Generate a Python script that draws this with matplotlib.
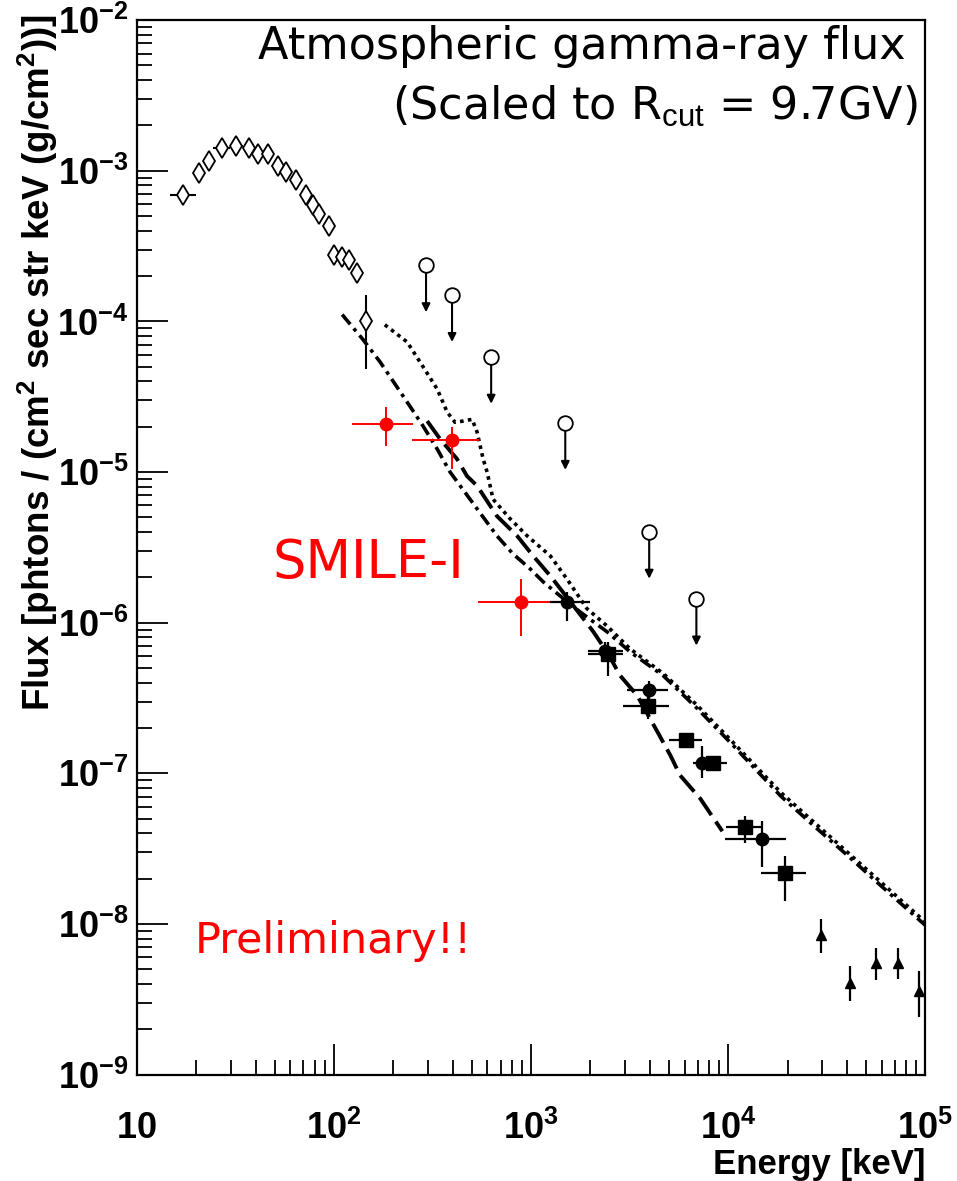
import numpy as np
import matplotlib
matplotlib.use("Agg")
import matplotlib.pyplot as plt
import matplotlib.ticker as ticker

plt.rcParams["font.family"] = ["Liberation Sans", "DejaVu Sans"]
plt.rcParams["mathtext.fontset"] = "custom"
plt.rcParams["mathtext.rm"] = "Liberation Sans"
plt.rcParams["mathtext.bf"] = "Liberation Sans:bold"
plt.rcParams["mathtext.it"] = "Liberation Sans:italic"

# ---------------------------------------------------------------------------
# Data
# ---------------------------------------------------------------------------
# open diamonds (low-energy balloon data)
dia_E = [17.1, 20.6, 23.2, 27.0, 31.8, 37.1, 41.1, 46.2, 52.0, 57.0, 64.1,
         72.1, 78.2, 84.0, 94.4, 100, 110, 119, 131, 145]
dia_F = [6.9e-4, 9.7e-4, 1.16e-3, 1.42e-3, 1.47e-3, 1.42e-3, 1.30e-3, 1.30e-3,
         1.08e-3, 9.8e-4, 8.7e-4, 6.9e-4, 5.9e-4, 5.2e-4, 4.3e-4, 2.78e-4,
         2.69e-4, 2.57e-4, 2.11e-4, 1.0e-4]
dia_Elo = [14.7, 20.6, 23.2, 24.3, 29.6, 34.5, 41.1, 44.0, 52.0, 57.0, 64.1,
           72.1, 78.2, 84.0, 94.4, 100, 110, 119, 131, 145]
dia_Ehi = [19.9, 20.6, 23.2, 29.6, 34.5, 39.5, 41.1, 46.2, 52.0, 57.0, 64.1,
           72.1, 78.2, 84.0, 94.4, 100, 110, 119, 131, 145]
dia_Flo = [6.9e-4, 9.7e-4, 1.16e-3, 1.42e-3, 1.47e-3, 1.42e-3, 1.30e-3, 1.30e-3,
           1.08e-3, 9.8e-4, 8.7e-4, 6.9e-4, 5.9e-4, 5.2e-4, 4.3e-4, 2.78e-4,
           2.69e-4, 2.57e-4, 1.84e-4, 4.8e-5]
dia_Fhi = [6.9e-4, 9.7e-4, 1.16e-3, 1.42e-3, 1.47e-3, 1.42e-3, 1.30e-3, 1.30e-3,
           1.08e-3, 9.8e-4, 8.7e-4, 6.9e-4, 5.9e-4, 5.2e-4, 4.3e-4, 2.78e-4,
           2.69e-4, 2.57e-4, 2.42e-4, 1.49e-4]

# upper limits (open circles with arrows)
ul_E = [293, 397, 627, 1490, 3970, 6890]
ul_F = [2.35e-4, 1.49e-4, 5.8e-5, 2.11e-5, 4.0e-6, 1.44e-6]

# SMILE-I (red)
sm_E = [184, 397, 889]
sm_F = [2.08e-5, 1.63e-5, 1.38e-6]
sm_Elo = [123, 249, 538]
sm_Ehi = [252, 544, 1248]
sm_Flo = [1.49e-5, 1.05e-5, 8.2e-7]
sm_Fhi = [2.69e-5, 1.99e-5, 1.95e-6]

# filled circles
ci_E = [1520, 2370, 3970, 7380, 14900]
ci_F = [1.38e-6, 6.5e-7, 3.55e-7, 1.18e-7, 3.66e-8]
ci_Elo = [1250, 1950, 3070, 6600, 9660]
ci_Ehi = [1990, 2930, 4950, 8200, 19700]
ci_Flo = [1.02e-6, 5.6e-7, 3.04e-7, 9.3e-8, 2.38e-8]
ci_Fhi = [1.60e-6, 7.4e-7, 4.13e-7, 1.51e-7, 4.81e-8]

# filled squares
sq_E = [2460, 3930, 6120, 8400, 12190, 19460]
sq_F = [6.2e-7, 2.78e-7, 1.66e-7, 1.18e-7, 4.39e-8, 2.18e-8]
sq_Elo = [1950, 2930, 5020, 7820, 9770, 14700]
sq_Ehi = [2930, 5020, 7390, 9890, 14900, 24900]
sq_Flo = [4.45e-7, 2.31e-7, 1.55e-7, 1.05e-7, 3.44e-8, 1.42e-8]
sq_Fhi = [7.5e-7, 3.49e-7, 1.78e-7, 1.30e-7, 5.19e-8, 2.82e-8]

# filled triangles
tr_E = [29650, 41600, 56400, 72900, 93300]
tr_F = [8.45e-9, 4.06e-9, 5.52e-9, 5.52e-9, 3.6e-9]
tr_Flo = [6.43e-9, 3.09e-9, 4.26e-9, 4.35e-9, 2.42e-9]
tr_Fhi = [1.08e-8, 5.27e-9, 6.93e-9, 6.93e-9, 4.89e-9]

# model curves
cA_E = [110, 140, 171, 209, 243, 283, 334, 388, 490, 671, 810, 988, 1150, 1400,
        1770, 2430, 3180, 4680, 6970, 10600, 18400, 27000, 40200, 59100, 100000]
cA_F = [1.11e-4, 7.6e-5, 5.4e-5, 3.66e-5, 2.73e-5, 2.02e-5, 1.42e-5, 1.0e-5,
        6.6e-6, 3.77e-6, 2.86e-6, 2.28e-6, 1.87e-6, 1.51e-6, 1.18e-6, 8.7e-7,
        6.4e-7, 4.45e-7, 2.69e-7, 1.53e-7, 7.1e-8, 4.52e-8, 2.86e-8, 1.81e-8, 9.8e-9]

cB_E = [181, 235, 283, 334, 375, 411, 452, 502, 532, 571, 598, 641, 782, 955,
        1250, 1520, 1920, 2430, 3180, 4680, 6970, 10600, 18400, 40200, 100000]
cB_F = [9.5e-5, 7.3e-5, 5.0e-5, 3.55e-5, 2.5e-5, 2.14e-5, 2.18e-5, 2.24e-5,
        1.84e-5, 1.22e-5, 1.0e-5, 6.6e-6, 4.9e-6, 3.77e-6, 2.78e-6, 1.95e-6,
        1.24e-6, 9.5e-7, 6.7e-7, 4.6e-7, 2.82e-7, 1.60e-7, 7.5e-8, 3.0e-8, 1.03e-8]

cC_E = [297, 345, 421, 473, 532, 671, 849, 1023, 1250, 1580, 2070, 2460, 2830,
        3450, 4360, 5080, 5700, 7210, 9330]
cC_F = [2.18e-5, 1.66e-5, 1.22e-5, 9.4e-6, 8.1e-6, 5.1e-6, 3.77e-6, 2.78e-6,
        2.05e-6, 1.38e-6, 8.7e-7, 6.2e-7, 4.45e-7, 3.29e-7, 1.90e-7, 1.32e-7,
        9.7e-8, 6.8e-8, 4.13e-8]

xtick_vals = [10, 1e2, 1e3, 1e4, 1e5]
xtick_labels = [r"$\mathbf{10}$", r"$\mathbf{10^{2}}$", r"$\mathbf{10^{3}}$",
                r"$\mathbf{10^{4}}$", r"$\mathbf{10^{5}}$"]
ytick_vals = [1e-9, 1e-8, 1e-7, 1e-6, 1e-5, 1e-4, 1e-3, 1e-2]
ytick_labels = [r"$\mathbf{10^{-9}}$", r"$\mathbf{10^{-8}}$", r"$\mathbf{10^{-7}}$",
                r"$\mathbf{10^{-6}}$", r"$\mathbf{10^{-5}}$", r"$\mathbf{10^{-4}}$",
                r"$\mathbf{10^{-3}}$", r"$\mathbf{10^{-2}}$"]


def err(c, lo, hi):
    c, lo, hi = np.array(c), np.array(lo), np.array(hi)
    return np.vstack([c - lo, hi - c])


# ---------------------------------------------------------------------------
# Figure
# ---------------------------------------------------------------------------
fig = plt.figure(figsize=(9.57, 11.81), dpi=100)
ax = fig.add_axes([0.143, 0.090, 0.824, 0.893])
ax.set_xscale("log")
ax.set_yscale("log")
ax.set_xlim(10, 1e5)
ax.set_ylim(1e-9, 1e-2)

# model curves
ax.plot(cA_E, cA_F, color="k", lw=2.6, ls=(0, (3.5, 1.5, 1.0, 1.5)), zorder=2)
ax.plot(cB_E, cB_F, color="k", lw=2.6, ls=(0, (1.0, 1.2)), zorder=2)
ax.plot(cC_E, cC_F, color="k", lw=2.8, ls=(0, (5.5, 2.0)), zorder=2)

# diamonds
ax.errorbar(dia_E, dia_F, xerr=err(dia_E, dia_Elo, dia_Ehi),
            yerr=err(dia_F, dia_Flo, dia_Fhi), fmt="d", ms=10, mfc="white",
            mec="k", mew=1.3, ecolor="k", elinewidth=1.5, capsize=0, zorder=4)

# upper limits
ax.plot(ul_E, ul_F, "o", ms=10.5, mfc="white", mec="k", mew=1.3, zorder=4)
for e, f in zip(ul_E, ul_F):
    ax.annotate("", xy=(e, f * 10 ** -0.31), xytext=(e, f),
                arrowprops=dict(arrowstyle="-|>", color="k", lw=1.5,
                                shrinkA=5, shrinkB=0, mutation_scale=12))

# black data sets
ax.errorbar(ci_E, ci_F, xerr=err(ci_E, ci_Elo, ci_Ehi),
            yerr=err(ci_F, ci_Flo, ci_Fhi), fmt="o", ms=9, color="k",
            elinewidth=1.6, capsize=0, zorder=5)
ax.errorbar(sq_E, sq_F, xerr=err(sq_E, sq_Elo, sq_Ehi),
            yerr=err(sq_F, sq_Flo, sq_Fhi), fmt="s", ms=9.5, color="k",
            elinewidth=1.6, capsize=0, zorder=5)
ax.errorbar(tr_E, tr_F, yerr=err(tr_F, tr_Flo, tr_Fhi), fmt="^", ms=7.5,
            color="k", elinewidth=1.6, capsize=0, zorder=5)

# SMILE-I
ax.errorbar(sm_E, sm_F, xerr=err(sm_E, sm_Elo, sm_Ehi),
            yerr=err(sm_F, sm_Flo, sm_Fhi), fmt="o", ms=9, color="#ff0000",
            elinewidth=1.4, capsize=0, zorder=6)

# axes styling
for s in ax.spines.values():
    s.set_linewidth(1.6)
ax.xaxis.set_major_locator(ticker.FixedLocator(xtick_vals))
ax.xaxis.set_major_formatter(ticker.FixedFormatter(xtick_labels))
ax.yaxis.set_major_locator(ticker.FixedLocator(ytick_vals))
ax.yaxis.set_major_formatter(ticker.FixedFormatter(ytick_labels))
ax.xaxis.set_minor_locator(ticker.LogLocator(base=10, subs=np.arange(2, 10), numticks=20))
ax.yaxis.set_minor_locator(ticker.LogLocator(base=10, subs=np.arange(2, 10), numticks=20))
ax.xaxis.set_minor_formatter(ticker.NullFormatter())
ax.yaxis.set_minor_formatter(ticker.NullFormatter())
ax.tick_params(which="major", direction="in", length=22, width=1.3,
               labelsize=26, top=False, right=False)
ax.tick_params(which="minor", direction="in", length=11, width=1.3,
               top=False, right=False)
ax.tick_params(axis="x", which="major", pad=26)
ax.tick_params(axis="y", which="major", pad=6)

fig.text(0.040, 0.988,
         r"Flux [phtons / (cm$^{\mathbf{2}}$ sec str keV (g/cm$^{\mathbf{2}}$))]",
         rotation=90, ha="center", va="top", fontsize=26.5, fontweight="bold")
fig.text(0.967, 0.0, "Energy [keV]", ha="right", va="bottom",
         fontsize=25, fontweight="bold")

# annotations
ax.text(0.975, 0.975, "Atmospheric gamma-ray flux", transform=ax.transAxes,
        ha="right", va="center", fontsize=32, family="DejaVu Sans")
ax.text(0.99, 0.918, r"(Scaled to R$_{\rm cut}$ = 9.7GV)", transform=ax.transAxes,
        ha="right", va="center", fontsize=32, family="DejaVu Sans")
ax.text(0.172, 0.485, "SMILE-I", transform=ax.transAxes, ha="left",
        va="center", fontsize=38, color="#ff0000", family="DejaVu Sans")
ax.text(0.073, 0.127, "Preliminary!!", transform=ax.transAxes, ha="left",
        va="center", fontsize=31, color="#ff0000", family="DejaVu Sans")

fig.savefig("out.png", dpi=100)
